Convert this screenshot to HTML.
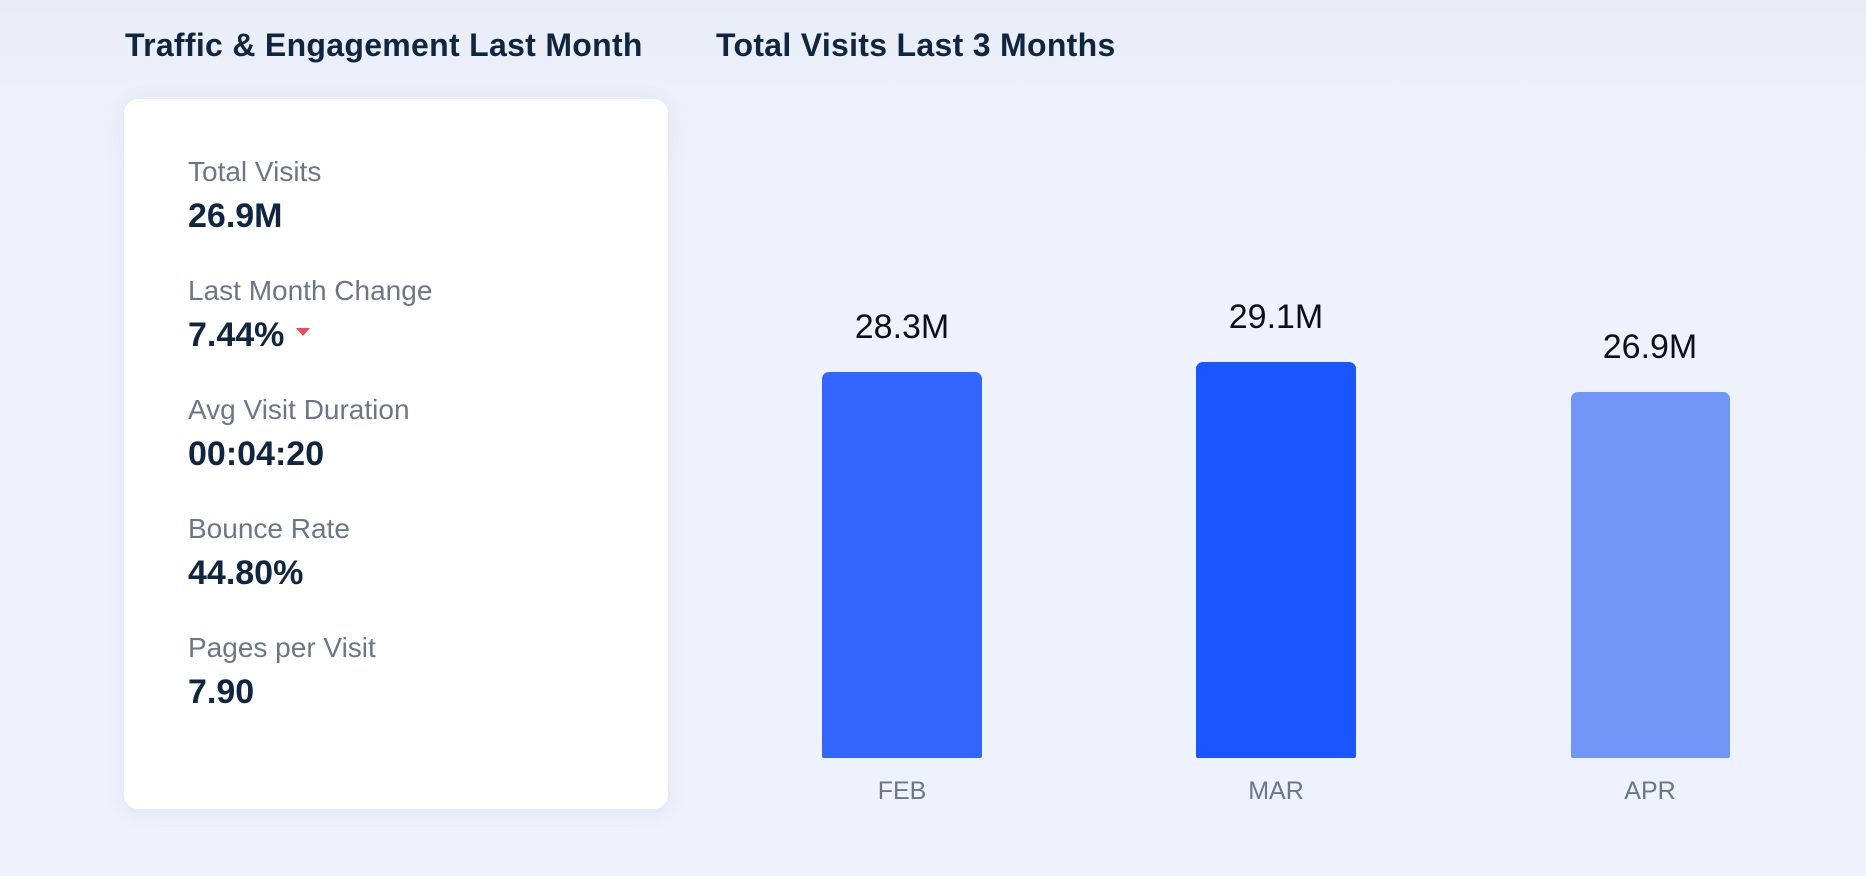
<!DOCTYPE html>
<html><head><style>
html,body{margin:0;padding:0}
body{width:1866px;height:876px;background:linear-gradient(180deg,#e9edf7 0%,#eef2fc 20%,#eef2fc 100%);font-family:"Liberation Sans",sans-serif;position:relative;overflow:hidden}
.t{position:absolute;font-size:32px;font-weight:bold;color:#0f2540;white-space:nowrap;top:27px;letter-spacing:0.3px}
.card{position:absolute;left:124px;top:99px;width:544px;height:710px;background:#fff;border-radius:14px;box-shadow:0 4px 20px rgba(120,140,190,0.12)}
.l{position:absolute;left:64px;font-size:28px;color:#6b7788;white-space:nowrap}
.v{position:absolute;left:64px;font-size:34px;font-weight:bold;color:#0f2540;white-space:nowrap}
.bar{position:absolute;border-radius:7px 7px 2px 2px}
.bl{position:absolute;font-size:34px;color:#0a0f1a;width:200px;text-align:center}
.m{position:absolute;font-size:25px;color:#6b7788;width:200px;text-align:center;top:777px}
</style></head><body>
<div class="t" style="left:125px">Traffic &amp; Engagement Last Month</div>
<div class="t" style="left:716px">Total Visits Last 3 Months</div>
<div class="card">
<div class="l" style="top:57px">Total Visits</div>
<div class="v" style="top:98px">26.9M</div>
<div class="l" style="top:176px">Last Month Change</div>
<div class="v" style="top:217px">7.44%<span style="display:inline-block;width:0;height:0;border-left:7px solid transparent;border-right:7px solid transparent;border-top:8px solid #ef4a5a;margin-left:12px;vertical-align:10px"></span></div>
<div class="l" style="top:295px">Avg Visit Duration</div>
<div class="v" style="top:336px">00:04:20</div>
<div class="l" style="top:414px">Bounce Rate</div>
<div class="v" style="top:455px">44.80%</div>
<div class="l" style="top:533px">Pages per Visit</div>
<div class="v" style="top:574px">7.90</div>
</div>
<div class="bar" style="left:822px;top:372px;width:160px;height:386px;background:#3366ff"></div>
<div class="bar" style="left:1196px;top:362px;width:160px;height:396px;background:#1a56ff"></div>
<div class="bar" style="left:1571px;top:392px;width:159px;height:366px;background:#7096f8"></div>
<div class="bl" style="left:802px;top:308px">28.3M</div>
<div class="bl" style="left:1176px;top:298px">29.1M</div>
<div class="bl" style="left:1550px;top:328px">26.9M</div>
<div class="m" style="left:802px">FEB</div>
<div class="m" style="left:1176px">MAR</div>
<div class="m" style="left:1550px">APR</div>
</body></html>
